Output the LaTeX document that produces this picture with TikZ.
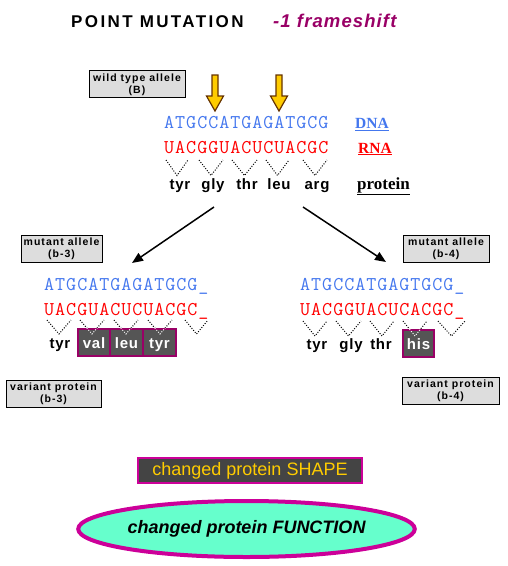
\documentclass[tikz,border=0pt]{standalone}
\usepackage{fontspec}
\setmainfont{Liberation Serif}
\setsansfont{Liberation Sans}
\newfontfamily\dnafont{Latin Modern Mono}[LetterSpace=5]
\usetikzlibrary{arrows.meta,shapes.geometric}
\definecolor{dnablue}{HTML}{4477EE}
\definecolor{rnared}{HTML}{FF0000}
\definecolor{titlepurple}{HTML}{990066}
\definecolor{boxgray}{HTML}{DDDDDD}
\definecolor{pborder}{HTML}{990066}
\definecolor{pfill}{HTML}{555555}
\definecolor{magen}{HTML}{CC0099}
\definecolor{aqua}{HTML}{66FFCC}
\definecolor{gold}{HTML}{FFCC00}
\definecolor{arrowbrown}{HTML}{663300}
\definecolor{shapefill}{HTML}{444444}
\tikzset{
  seq/.style={anchor=base west, inner sep=0pt, font=\dnafont\fontsize{19.5}{21}\selectfont},
  tag/.style={anchor=base west, inner sep=0pt, font=\rmfamily\bfseries\fontsize{15.5}{17}\selectfont},
  aa/.style={anchor=base, inner sep=0pt, font=\sffamily\bfseries\fontsize{15}{16}\selectfont\addfontfeature{LetterSpace=5}},
  pbox/.style={draw=pborder, line width=2pt, fill=pfill, text=white, minimum height=27pt, inner sep=0pt,
    text height=11pt, text depth=0pt, font=\sffamily\bfseries\fontsize{15}{16}\selectfont\addfontfeature{LetterSpace=5}},
  lbl/.style={draw=black, line width=1pt, fill=boxgray, inner sep=0pt, align=center, minimum height=27pt,
    font=\sffamily\bfseries\fontsize{10.5}{12}\selectfont\addfontfeature{LetterSpace=10}},
  vdot/.style={line width=1pt, dash pattern=on 1pt off 1.6pt},
  yarrow/.style={fill=gold, draw=arrowbrown, line width=1.2pt, line join=miter},
  marrow/.style={line width=1.5pt, -{Triangle[length=11pt,width=9pt]}},
}
\begin{document}
\begin{tikzpicture}[x=1pt,y=-1pt]
\useasboundingbox (0,0) rectangle (508,566);

% title
\node[anchor=base west, inner sep=0pt, font=\sffamily\bfseries\fontsize{17}{18}\selectfont\addfontfeature{LetterSpace=14}] (title) at (71,27) {POINT MUTATION};
\node[anchor=base west, inner sep=0pt, text=titlepurple, font=\sffamily\bfseries\itshape\fontsize{18.5}{20}\selectfont\addfontfeature{LetterSpace=6}] (fs) at (273,27) {-1 frameshift};

% wild type
\node[lbl, minimum width=96pt] (wild) at (137,84.4) {wild type allele\\(B)};
\foreach \cx in {215, 279}
  \draw[yarrow] (\cx-3,75) -- (\cx+3,75) -- (\cx+3,96) -- (\cx+8.5,96) -- (\cx,111) -- (\cx-8.5,96) -- (\cx-3,96) -- cycle;

\node[seq, text=dnablue] (dna) at (164,128.5) {ATGCCATGAGATGCG};
\node[seq, text=rnared] (rna) at (164,153.5) {UACGGUACUCUACGC};
\node[tag, text=dnablue] (dnatag) at (355,128.5) {\underline{DNA}};
\node[tag, text=rnared] (rnatag) at (358,153) {\underline{RNA}};
\node[tag, font=\rmfamily\bfseries\fontsize{17}{19}\selectfont] (prottag) at (357,189) {\underline{protein}};

\foreach \a/\b in {166/188,199/223,232/257,266/289,303/327}
  \draw[vdot] (\a,160) -- ({(\a+\b)/2},175.5) -- (\b,160);

\node[aa] (w1) at (180,189) {tyr};
\node[aa] (w2) at (213,189) {gly};
\node[aa] (w3) at (247,189) {thr};
\node[aa] (w4) at (279,189) {leu};
\node[aa] (w5) at (317,189) {arg};

% arrows to mutants
\coordinate (la0) at (214,207);
\coordinate (la1) at (132,263);
\coordinate (ra0) at (303,207);
\coordinate (ra1) at (386,262);
\draw[marrow] (la0) -- (la1);
\draw[marrow] (ra0) -- (ra1);

% left mutant
\node[lbl, minimum width=81pt] (mut3) at (61.5,248.5) {mutant allele\\(b-3)};
\node[seq, text=dnablue] (dna3) at (44,290) {ATGCATGAGATGCG\_};
\node[seq, text=rnared] (rna3) at (44,315) {UACGUACUCUACGC\_};
\foreach \a/\b in {47/71,80/104,114/138,148/172,185/208}
  \draw[vdot] (\a,320) -- ({(\a+\b)/2},334) -- (\b,320);
\node[aa] (l1) at (60,348) {tyr};
\node[pbox, minimum width=32pt] (l2) at (94,342.5) {val};
\node[pbox, minimum width=33pt] (l3) at (126.5,342.5) {leu};
\node[pbox, minimum width=33pt] (l4) at (159.5,342.5) {tyr};
\begin{scope}
  \clip (l2.north west) rectangle (l4.south east);
  \foreach \a/\b in {80/104,114/138,148/172}
    \draw[vdot, white] (\a,320) -- ({(\a+\b)/2},334) -- (\b,320);
\end{scope}

% right mutant
\node[lbl, minimum width=86pt] (mut4) at (446,248.5) {mutant allele\\(b-4)};
\node[seq, text=dnablue] (dna4) at (300,290) {ATGCCATGAGTGCG\_};
\node[seq, text=rnared] (rna4) at (300,315) {UACGGUACUCACGC\_};
\foreach \a/\b in {303/327,336/361,370/394,403/427,438/465}
  \draw[vdot] (\a,321) -- ({(\a+\b)/2},336) -- (\b,321);
\node[aa] (r1) at (317,349) {tyr};
\node[aa] (r2) at (351,349) {gly};
\node[aa] (r3) at (381,349) {thr};
\node[pbox, minimum width=31pt] (r4) at (418.5,343.5) {his};
\begin{scope}
  \clip (r4.north west) rectangle (r4.south east);
  \draw[vdot, white] (403,321) -- (415,336) -- (427,321);
\end{scope}

% variant protein boxes
\node[lbl, minimum width=95pt] (var3) at (53.5,393.5) {variant protein\\(b-3)};
\node[lbl, minimum width=97pt] (var4) at (450.5,391) {variant protein\\(b-4)};

% bottom
\node[draw=magen, line width=2.5pt, fill=shapefill, text=gold, minimum width=224pt, minimum height=25pt, inner sep=0pt,
  font=\sffamily\fontsize{18}{20}\selectfont] (shape) at (250,470.5) {changed protein SHAPE};
\node[ellipse, draw=magen, line width=4pt, fill=aqua, minimum width=323pt, minimum height=56pt, inner sep=0pt,
  font=\sffamily\bfseries\itshape\fontsize{18}{20}\selectfont] (func) at (246.5,529) {changed protein FUNCTION};
\end{tikzpicture}
\end{document}
